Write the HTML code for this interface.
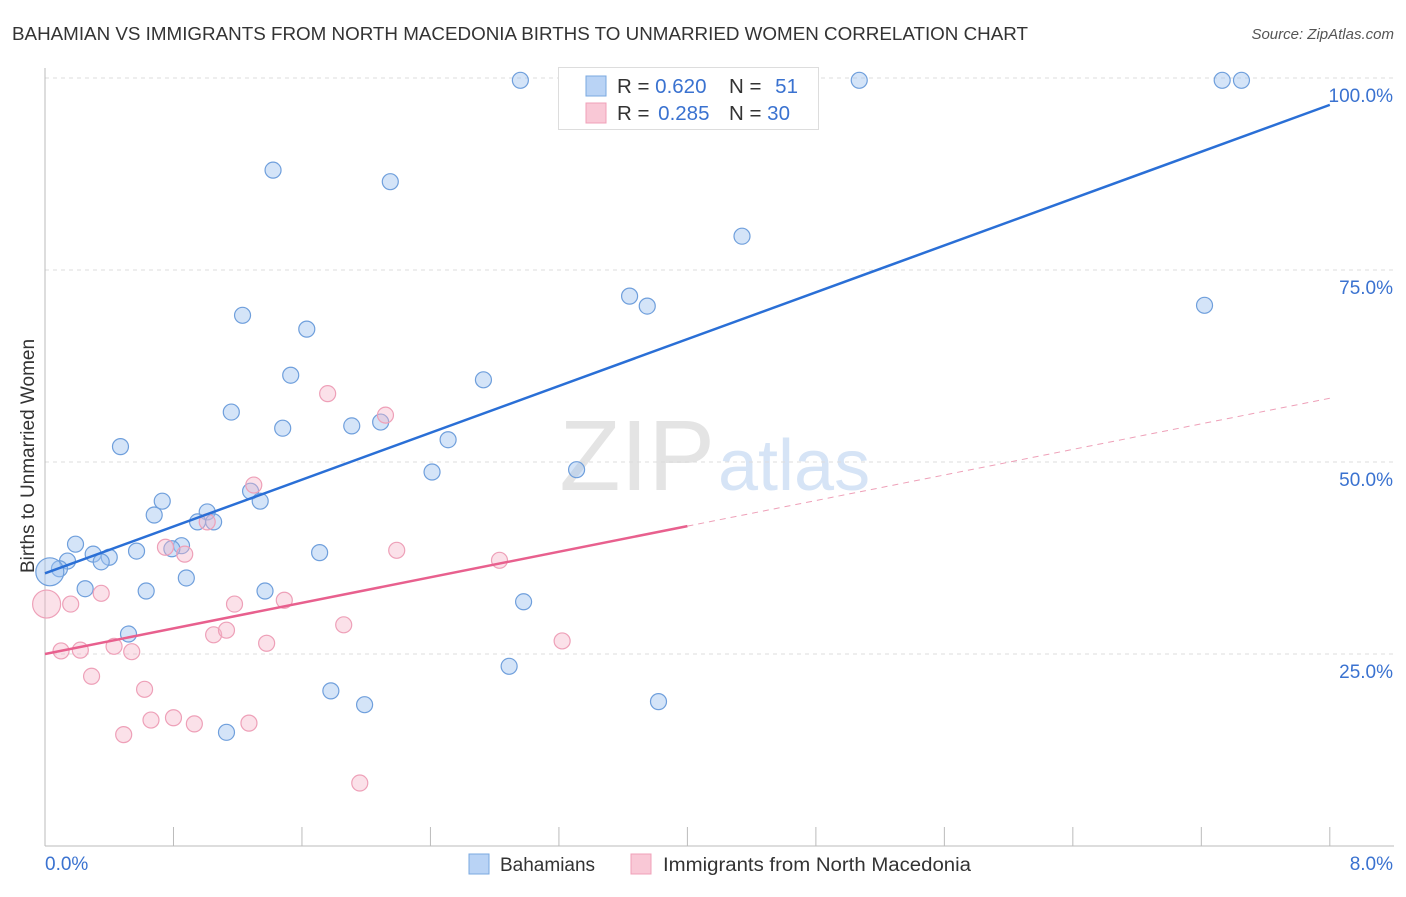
<!DOCTYPE html>
<html><head><meta charset="utf-8"><style>
body{margin:0;background:#fff;font-family:"Liberation Sans",sans-serif;}
svg text{font-family:"Liberation Sans",sans-serif;}
</style></head><body>
<svg id="c" width="1406" height="892" xmlns="http://www.w3.org/2000/svg">
<text x="12" y="40" font-size="18.5" fill="#333" textLength="1016" lengthAdjust="spacingAndGlyphs">BAHAMIAN VS IMMIGRANTS FROM NORTH MACEDONIA BIRTHS TO UNMARRIED WOMEN CORRELATION CHART</text>
<text x="1394" y="39" font-size="15" fill="#555" font-style="italic" text-anchor="end">Source: ZipAtlas.com</text>
<text x="715" y="490" font-size="100" fill="#e4e4e4" text-anchor="end" font-family="Liberation Serif">ZIP</text>
<text x="718" y="490" font-size="72" fill="#d6e4f6">atlas</text>
<g id="grid"></g>
<g id="marks"></g>
<text transform="translate(34,456) rotate(-90)" font-size="19" fill="#333" text-anchor="middle">Births to Unmarried Women</text>
<text x="45" y="870" font-size="19" fill="#3a72d0">0.0%</text>
<text x="1393" y="870" font-size="19" fill="#3a72d0" text-anchor="end">8.0%</text>
<g>
<rect x="558.5" y="67.5" width="260" height="62" fill="#fff" stroke="#ddd"/>
<rect x="586" y="76" width="20" height="20" fill="#b9d3f5" stroke="#7aa8e0"/>
<rect x="586" y="103" width="20" height="20" fill="#f9c8d6" stroke="#f0a0b8"/>
<text x="617" y="93" font-size="20.5" fill="#333">R = <tspan fill="#3a72d0">0.620</tspan></text>
<text x="729" y="93" font-size="20.5" fill="#333">N = <tspan fill="#3a72d0" dx="8">51</tspan></text>
<text x="617" y="120" font-size="20.5" fill="#333">R = <tspan fill="#3a72d0" dx="3">0.285</tspan></text>
<text x="729" y="120" font-size="20.5" fill="#333">N = <tspan fill="#3a72d0">30</tspan></text>
</g>
<g>
<rect x="469" y="854" width="20" height="20" fill="#b9d3f5" stroke="#7aa8e0"/>
<text x="500" y="871" font-size="19" fill="#333">Bahamians</text>
<rect x="631" y="854" width="20" height="20" fill="#f9c8d6" stroke="#f0a0b8"/>
<text x="663" y="871" font-size="19" fill="#333" textLength="308" lengthAdjust="spacingAndGlyphs">Immigrants from North Macedonia</text>
</g>
</svg>
<script>
const blueX=[2.96,5.07,7.33,7.45,1.42,2.15,4.34,3.64,3.75,7.22,1.23,1.63,1.53,2.73,1.16,1.48,1.91,2.09,2.51,0.47,2.41,3.31,1.28,0.73,1.34,0.68,1.01,0.95,1.05,0.19,0.85,0.79,0.30,0.57,0.40,1.71,0.14,0.35,0.09,0.03,0.88,0.25,0.63,1.37,2.98,0.52,2.89,1.78,1.99,3.82,1.13];
const blueY=[99.7,99.7,99.7,99.7,88.0,86.5,79.4,71.6,70.3,70.4,69.1,67.3,61.3,60.7,56.5,54.4,54.7,55.2,52.9,52.0,48.7,49.0,46.2,44.9,44.9,43.1,43.5,42.2,42.2,39.3,39.1,38.7,38.0,38.4,37.6,38.2,37.1,37.0,36.1,35.7,34.9,33.5,33.2,33.2,31.8,27.6,23.4,20.2,18.4,18.8,14.8];
const pinkX=[0.01,0.16,0.10,0.22,0.29,0.43,0.54,0.35,0.49,0.62,0.66,0.80,0.93,0.75,0.87,1.01,1.05,1.13,1.18,1.27,1.30,1.38,1.49,1.76,1.86,2.12,2.19,2.83,3.22,1.96];
const pinkY=[31.5,31.5,25.4,25.5,22.1,26.0,25.3,32.9,14.5,20.4,16.4,16.7,15.9,38.9,38.0,42.2,27.5,28.1,31.5,16.0,47.0,26.4,32.0,58.9,28.8,56.1,38.5,37.2,26.7,8.2];
const blueLine=[35.5,96.5];
const pinkLine=[25.0,58.3];
const pinkSolidEnd=4.0;
const yTicks=[25,50,75,100];
const xTicks=[0,0.8,1.6,2.4,3.2,4.0,4.8,5.6,6.4,7.2,8.0];
const NS="http://www.w3.org/2000/svg";
const sx=v=>45+v*160.6, sy=v=>846-v*7.68;
function mk(t,a,p){const e=document.createElementNS(NS,t);for(const k in a)e.setAttribute(k,a[k]);p.appendChild(e);return e;}
const g=document.getElementById('grid'),m=document.getElementById('marks');
yTicks.forEach(t=>{
 const l=mk('line',{x1:45,x2:1394,y1:sy(t),y2:sy(t),stroke:'#ddd','stroke-dasharray':'4,4'},g);
 
 
 const tx=mk('text',{x:1393,y:sy(t)+24,'font-size':19,fill:'#3a72d0','text-anchor':'end'},g);
 tx.textContent=t.toFixed(1)+'%';
 
 
});
const ax=mk('line',{x1:45,x2:1394,y1:846,y2:846,stroke:'#bbb'},g);


const ay=mk('line',{x1:45,x2:45,y1:68,y2:846,stroke:'#bbb'},g);


xTicks.forEach(t=>{
 const l=mk('line',{x1:sx(t),x2:sx(t),y1:827,y2:846,stroke:'#bbb'},g);
 
 
});
function dots(X,Y,fill,stroke,name){
 X.forEach((x,i)=>{
  const big=(x<0.05);
  const c=mk('circle',{cx:sx(x),cy:sy(Y[i]),r:big?14:8,fill:fill,stroke:stroke,'stroke-width':1.2},m);
  
  
 });
}
dots(blueX,blueY,'rgba(160,196,240,0.45)','#6f9fdc','bahamian-point');
dots(pinkX,pinkY,'rgba(245,180,200,0.4)','#eea0b8','macedonia-point');
const lerp=(L,x)=>L[0]+(L[1]-L[0])*x/8;
const bl=mk('line',{x1:sx(0),y1:sy(lerp(blueLine,0)),x2:sx(8),y2:sy(lerp(blueLine,8)),stroke:'#2a6fd6','stroke-width':2.5},m);


const pl=mk('line',{x1:sx(0),y1:sy(lerp(pinkLine,0)),x2:sx(pinkSolidEnd),y2:sy(lerp(pinkLine,pinkSolidEnd)),stroke:'#e8608e','stroke-width':2.5},m);


const pd=mk('line',{x1:sx(pinkSolidEnd),y1:sy(lerp(pinkLine,pinkSolidEnd)),x2:sx(8),y2:sy(lerp(pinkLine,8)),stroke:'#eea0b8','stroke-width':1,'stroke-dasharray':'6,5'},m);


</script>
</body></html>
